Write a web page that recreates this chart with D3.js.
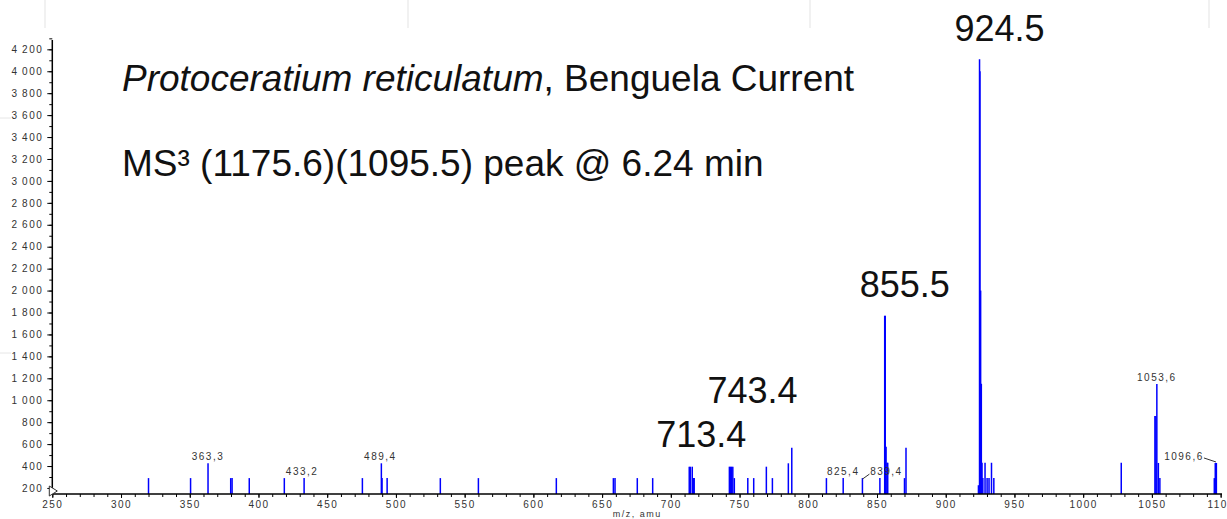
<!DOCTYPE html>
<meta charset="utf-8">
<style>
    body {
        margin: 0;
        background: #fff;
    }

    svg {
        font-family: "Liberation Sans", Arial, sans-serif;
    }

    .axis path,
    .axis line {
        fill: none;
        stroke: black;
    }

    .axis text {
        font-size: 10px;
        letter-spacing: 1.5px;
        fill: #333;
    }
</style>
<body>
<script src="https://cdn.jsdelivr.net/npm/d3@7"></script>
<script>
    // peak list (m/z in amu, intensity in cps)
    const mz = [
        320.0, 350.6, 363.3, 379.8, 380.8, 393.3, 418.8, 433.2, 475.6, 489.4, 489.9, 493.6,
        532.3, 560.0, 616.7, 658.2, 659.4, 675.6, 686.8,
        713.4, 714.2, 715.6, 716.3, 717.0,
        742.6, 743.4, 744.2, 745.1, 746.2, 756.0, 760.3, 769.5, 773.9, 785.5, 788.0,
        813.2, 825.4, 839.4, 852.1, 855.6, 856.0, 856.6, 857.3, 857.8, 870.0, 871.1,
        923.8, 924.6, 924.9, 925.4, 925.9, 926.4, 927.0, 928.6, 930.1, 931.5, 933.3, 935.0,
        1027.7, 1052.2, 1052.9, 1053.6, 1054.7, 1055.8,
        1095.4, 1096.1, 1096.9
    ];
    const intensity = [
        290, 290, 425, 290, 290, 290, 290, 290, 290, 425, 290, 290,
        290, 290, 290, 290, 290, 290, 290,
        394, 394, 394, 290, 290,
        394, 394, 394, 394, 290, 290, 290, 394, 290, 425, 567,
        290, 290, 290, 290, 1770, 1770, 576, 430, 430, 290, 567,
        225, 4110, 4000, 2000, 1150, 430, 290, 430, 290, 290, 430, 290,
        430, 856, 856, 1148, 428, 290,
        290, 428, 428
    ];

    // small labels printed by the instrument software
    const peakLabels = ["363,3", "433,2", "489,4", "825,4", "839,4", "1053,6", "1096,6"];
    const peakLabelMz = [363.3, 433.2, 489.4, 825.4, 839.4, 1053.6, 1096.6];
    const peakLabelTop = [425, 290, 425, 290, 290, 1148, 428];
    const peakLabelShift = [0, -2, -1, 0, 24, 0, -32];

    // big annotations added on top
    const noteText = ["924.5", "855.5", "743.4", "713.4"];
    const noteMz = [924.6, 855.6, 743.4, 713.4];
    const noteLevel = [4276, 1941, 975, 574];
    const noteShift = [20, 20, 22, 12];

    const xMajor = d3.range(250, 1101, 50);
    const xMinor = d3.range(250, 1101, 10);
    const yMajor = d3.range(200, 4201, 200);
    const yMinor = d3.range(200, 4301, 100);

    const width = 1227;
    const height = 519;

    const svg = d3.select('body')
        .append('svg')
        .attr('width', width)
        .attr('height', height);

    const x = d3.scaleLinear().domain([250, 1101]).range([52.3, 1222]);
    const y = d3.scaleLinear().domain([145, 4285]).range([494, 40]);

    // faint screenshot seams at the top
    svg.append('g').selectAll('line')
        .data([45, 408, 810, 1209])
        .enter().append('line')
        .attr('x1', d => d).attr('x2', d => d)
        .attr('y1', 0).attr('y2', 28)
        .style('stroke', '#ececec')
        .style('stroke-width', 1.5);
    svg.append('g').selectAll('line')
        .data([118, 353])
        .enter().append('line')
        .attr('x1', 0).attr('x2', 11)
        .attr('y1', d => d).attr('y2', d => d)
        .style('stroke', '#e6e6e6');

    // peaks
    svg.append('g')
        .attr('class', 'peaks')
        .selectAll('line')
        .data(mz)
        .enter().append('line')
        .attr('x1', d => x(d))
        .attr('x2', d => x(d))
        .attr('y1', y(145))
        .attr('y2', (d, i) => y(intensity[i]))
        .style('stroke', '#0000ff')
        .style('stroke-width', 1.5);

    // x axis
    const xAxis = svg.append('g')
        .attr('class', 'x axis')
        .attr('transform', 'translate(0,' + y(145) + ')');
    xAxis.call(d3.axisBottom(x).tickValues(xMinor).tickSize(3).tickFormat(''))
        .select('.domain').remove();
    const xMaj = svg.append('g')
        .attr('class', 'x axis')
        .attr('transform', 'translate(0,' + y(145) + ')')
        .call(d3.axisBottom(x).tickValues(xMajor).tickSize(4).tickPadding(3).tickFormat(d3.format('d')));
    xMaj.select('.domain').attr('d', 'M' + x(250) + ',0H' + x(1101)).style('stroke-width', 1.5);

    // y axis
    svg.append('g')
        .attr('class', 'y axis')
        .attr('transform', 'translate(' + x(250) + ',0)')
        .call(d3.axisLeft(y).tickValues(yMinor).tickSize(3).tickFormat(''))
        .select('.domain').remove();
    const yMaj = svg.append('g')
        .attr('class', 'y axis')
        .attr('transform', 'translate(' + x(250) + ',0)')
        .call(d3.axisLeft(y).tickValues(yMajor).tickSize(5).tickPadding(4)
            .tickFormat(d => d >= 1000 ? Math.floor(d / 1000) + '\u2009' + String(d % 1000).padStart(3, '0') : d));
    yMaj.select('.domain').attr('d', 'M0,' + y(4285) + 'V' + y(145)).style('stroke-width', 1.5);

    // little triangle marker at the origin
    svg.append('path')
        .attr('d', 'M' + (x(250) - 3) + ',' + (y(145) - 8) + 'l8,5l-8,5z')
        .style('fill', 'white')
        .style('stroke', '#333')
        .style('stroke-width', 1);

    svg.append('text')
        .attr('x', (x(250) + x(1101)) / 2)
        .attr('y', 517)
        .attr('text-anchor', 'middle')
        .style('font-size', '9px')
        .style('letter-spacing', '1.5px')
        .style('fill', '#333')
        .text('m/z, amu');

    // software peak labels
    const pl = svg.append('g').attr('class', 'peak-labels');
    pl.selectAll('text')
        .data(peakLabels)
        .enter().append('text')
        .attr('x', (d, i) => x(peakLabelMz[i]) + peakLabelShift[i])
        .attr('y', (d, i) => y(peakLabelTop[i]) - 3)
        .attr('text-anchor', 'middle')
        .style('font-size', '10px')
        .style('letter-spacing', '1.5px')
        .style('fill', '#333')
        .text(d => d);

    // leader lines for the shifted labels
    pl.append('path')
        .attr('d', 'M' + x(839.4) + ',' + (y(290) + 1) + 'L' + (x(839.4) + 7) + ',' + (y(290) - 4))
        .style('stroke', '#333').style('fill', 'none');
    pl.append('path')
        .attr('d', 'M' + (x(1096.6) - 12) + ',' + (y(428) - 5) + 'L' + x(1096.6) + ',' + (y(428) - 1))
        .style('stroke', '#333').style('fill', 'none');

    // big annotations
    svg.append('g').selectAll('text')
        .data(noteText)
        .enter().append('text')
        .attr('x', (d, i) => x(noteMz[i]) + noteShift[i])
        .attr('y', (d, i) => y(noteLevel[i]))
        .attr('text-anchor', 'middle')
        .style('font-size', '36px')
        .style('fill', '#111')
        .text(d => d);

    const title = svg.append('text')
        .attr('x', 122)
        .attr('y', 91)
        .style('font-size', '37px')
        .style('fill', '#111');
    title.append('tspan').style('font-style', 'italic').text('Protoceratium reticulatum');
    title.append('tspan').text(', Benguela Current');

    svg.append('text')
        .attr('x', 122)
        .attr('y', 176)
        .style('font-size', '37px')
        .style('fill', '#111')
        .text('MS\u00b3 (1175.6)(1095.5) peak @ 6.24 min');
</script>
</body>
</html>
